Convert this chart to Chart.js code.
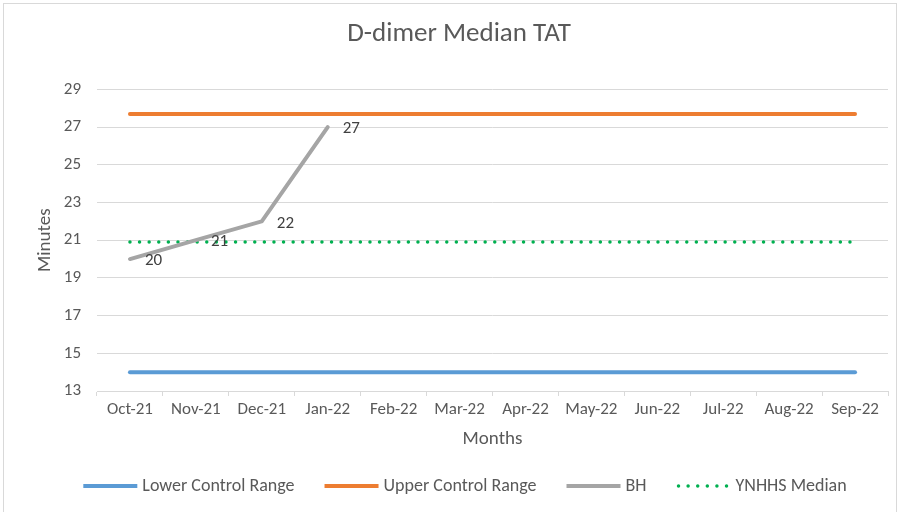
<!DOCTYPE html>
<html>
<head>
<meta charset="utf-8">
<script src="https://cdn.jsdelivr.net/npm/chart.js@4"></script>
<style>
  body { margin: 0; background: #ffffff; }
  #wrap { width: 900px; height: 512px; position: relative; }
</style>
</head>
<body>
<div id="wrap"><canvas id="myChart" width="900" height="512"></canvas></div>
<script>
// values
var months = ["Oct-21", "Nov-21", "Dec-21", "Jan-22", "Feb-22", "Mar-22",
  "Apr-22", "May-22", "Jun-22", "Jul-22", "Aug-22", "Sep-22"];
var lowerControl = [14, 14, 14, 14, 14, 14, 14, 14, 14, 14, 14, 14];
var upperControl = [27.7, 27.7, 27.7, 27.7, 27.7, 27.7, 27.7, 27.7, 27.7, 27.7, 27.7, 27.7];
var bhValues = [20, 21, 22, 27, null, null, null, null, null, null, null, null];
var ynhhsMedian = [20.9, 20.9, 20.9, 20.9, 20.9, 20.9, 20.9, 20.9, 20.9, 20.9, 20.9, 20.9];

var textColor = "#595959";
var fontFamily = "Carlito, 'Open Sans', 'Liberation Sans', sans-serif";

// outer border like the excel chart frame
var framePlugin = {
  id: "frame",
  beforeDraw: function (chart) {
    var ctx = chart.ctx;
    ctx.save();
    ctx.fillStyle = "#ffffff";
    ctx.fillRect(0, 0, chart.width, chart.height);
    ctx.strokeStyle = "#d9d9d9";
    ctx.lineWidth = 1;
    ctx.strokeRect(3.5, 3.5, chart.width - 7, chart.height);
    ctx.restore();
  },
};

// numbers to the right of the BH points
var bhLabelsPlugin = {
  id: "bhLabels",
  afterDatasetsDraw: function (chart) {
    var ctx = chart.ctx;
    var meta = chart.getDatasetMeta(2);
    ctx.save();
    ctx.font = "17px " + fontFamily;
    ctx.fillStyle = "#404040";
    ctx.textAlign = "left";
    ctx.textBaseline = "middle";
    meta.data.forEach(function (pt, i) {
      if (bhValues[i] == null) return;
      ctx.fillText(String(bhValues[i]), pt.x + 15, pt.y + 2);
    });
    ctx.restore();
  },
};

// excel style legend: line sample with the dataset's dash
var lineLegendPlugin = {
  id: "lineLegend",
  afterDraw: function (chart) {
    var ctx = chart.ctx;
    var sample = 54, gapText = 5, gapItem = 30;
    var y = 486;
    ctx.save();
    ctx.font = "18px " + fontFamily;
    var total = 0;
    chart.data.datasets.forEach(function (ds, i) {
      total += sample + gapText + ctx.measureText(ds.label).width;
      if (i < chart.data.datasets.length - 1) total += gapItem;
    });
    var x = 465 - total / 2;
    chart.data.datasets.forEach(function (ds) {
      ctx.beginPath();
      ctx.strokeStyle = ds.borderColor;
      ctx.lineWidth = ds.borderWidth;
      ctx.lineCap = ds.borderDash ? "round" : "butt";
      ctx.setLineDash(ds.borderDash || []);
      ctx.moveTo(x + (ds.borderDash ? 2 : 0), y);
      ctx.lineTo(x + sample, y);
      ctx.stroke();
      ctx.setLineDash([]);
      x += sample + gapText;
      ctx.fillStyle = textColor;
      ctx.textAlign = "left";
      ctx.textBaseline = "middle";
      ctx.fillText(ds.label, x, y);
      x += ctx.measureText(ds.label).width + gapItem;
    });
    ctx.restore();
  },
};

new Chart("myChart", {
  type: "line",
  data: {
    labels: months,
    datasets: [
      {
        label: "Lower Control Range",
        data: lowerControl,
        borderColor: "#5B9BD5",
        borderWidth: 4,
        borderCapStyle: "round",
        pointRadius: 0,
        fill: false,
      },
      {
        label: "Upper Control Range",
        data: upperControl,
        borderColor: "#ED7D31",
        borderWidth: 4,
        borderCapStyle: "round",
        pointRadius: 0,
        fill: false,
      },
      {
        label: "BH",
        data: bhValues,
        borderColor: "#A5A5A5",
        borderWidth: 4,
        borderCapStyle: "round",
        pointRadius: 0,
        fill: false,
        spanGaps: false,
      },
      {
        label: "YNHHS Median",
        data: ynhhsMedian,
        borderColor: "#00B050",
        borderWidth: 3.5,
        borderDash: [0, 9.6],
        borderCapStyle: "round",
        pointRadius: 0,
        fill: false,
      },
    ],
  },
  options: {
    responsive: false,
    animation: false,
    layout: { padding: { left: 30, right: 12, top: 0, bottom: 51 } },
    plugins: {
      title: {
        display: true,
        text: "D-dimer Median TAT",
        color: textColor,
        font: { family: fontFamily, size: 27, weight: "normal" },
        padding: { top: 18, bottom: 39 },
      },
      legend: { display: false },
      tooltip: { enabled: false },
    },
    scales: {
      x: {
        offset: true,
        grid: {
          display: true,
          drawOnChartArea: false,
          drawTicks: true,
          tickLength: 5,
          offset: true,
          color: "#d9d9d9",
        },
        border: { display: true, color: "#d9d9d9" },
        ticks: {
          color: textColor,
          font: { family: fontFamily, size: 17 },
          maxRotation: 0,
          autoSkip: false,
          padding: 4,
        },
        title: {
          display: true,
          text: "Months",
          color: textColor,
          font: { family: fontFamily, size: 19 },
          padding: { top: 4, bottom: 10 },
        },
        afterFit: function (scale) {
          scale.height = 70;
        },
      },
      y: {
        min: 13,
        max: 29,
        grid: { color: "#d9d9d9", drawTicks: false },
        border: { display: false },
        ticks: {
          stepSize: 2,
          color: textColor,
          font: { family: fontFamily, size: 17 },
          padding: 16,
        },
        title: {
          display: true,
          text: "Minutes",
          color: textColor,
          font: { family: fontFamily, size: 19 },
          padding: 4,
        },
        afterFit: function (scale) {
          scale.width = 67;
        },
      },
    },
  },
  plugins: [framePlugin, bhLabelsPlugin, lineLegendPlugin],
});
</script>
</body>
</html>
